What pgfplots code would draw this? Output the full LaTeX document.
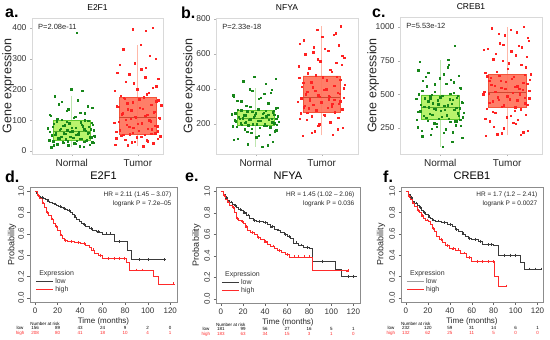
\documentclass[border=0pt]{standalone}
\usepackage{pgfplots}
\pgfplotsset{compat=1.18}
\usepackage{pgfplotstable}
\usepackage{fontspec}
\setmainfont{Liberation Sans}

\definecolor{nfill}{HTML}{B2F25C}
\definecolor{nedge}{HTML}{62C72F}
\definecolor{npt}{HTML}{17861A}
\definecolor{nwh}{HTML}{BFE6B0}
\definecolor{tfill}{HTML}{FF7058}
\definecolor{tedge}{HTML}{F4543A}
\definecolor{tpt}{HTML}{FF2222}
\definecolor{twh}{HTML}{FFB8A8}
\definecolor{kmlow}{HTML}{3A3A3A}
\definecolor{kmhigh}{HTML}{FF2A2A}

\pgfplotstableread[row sep=\\]{j v\\
-0.31 12\\ 0.12 15\\ -0.05 18\\ 0.27 20\\ -0.22 22\\ 0.04 25\\ 0.33 26\\ -0.14 28\\ 0.19 30\\ -0.28 31\\
0.08 33\\ -0.34 35\\ 0.23 36\\ -0.09 38\\ 0.15 40\\ -0.19 42\\ 0.30 44\\ -0.02 47\\ 0.34 50\\ -0.25 52\\
0.10 55\\ -0.12 57\\ 0.26 60\\ -0.33 62\\ 0.01 64\\ 0.21 66\\ -0.07 68\\ 0.29 70\\ -0.17 72\\ 0.06 75\\
-0.29 78\\ 0.17 80\\ -0.11 83\\ 0.32 86\\ -0.04 90\\ 0.14 93\\ -0.23 96\\ 0.25 98\\ -0.15 102\\ 0.03 108\\
-0.32 115\\ 0.20 122\\ -0.08 130\\ 0.31 140\\ -0.20 152\\ 0.09 165\\ -0.26 178\\ 0.16 195\\ -0.01 200\\ 0.08 385\\
0.18 14\\ -0.27 19\\ 0.05 23\\ -0.13 27\\ 0.31 29\\ -0.06 32\\ 0.22 34\\ -0.35 37\\ 0.13 39\\ -0.21 41\\
0.02 43\\ 0.28 45\\ -0.16 46\\ 0.35 48\\ -0.30 51\\ 0.07 53\\ -0.10 56\\ 0.24 58\\ -0.24 59\\ 0.11 61\\
-0.03 63\\ 0.33 67\\ -0.18 69\\ 0.19 71\\ -0.36 74\\ 0.00 76\\ 0.26 79\\ -0.13 82\\ 0.15 85\\ -0.27 88\\
0.30 91\\ -0.08 95\\ 0.20 100\\ -0.22 105\\ 0.05 112\\ -0.33 118\\ 0.13 125\\ -0.05 135\\ 0.24 145\\ -0.15 160\\
}\aN
\pgfplotstableread[row sep=\\]{j v\\
0.08 15\\ -0.34 20\\ 0.23 25\\ -0.09 28\\ 0.15 32\\ -0.19 36\\ 0.30 40\\ -0.02 44\\ 0.34 48\\ -0.25 50\\
0.10 53\\ -0.12 55\\ 0.26 58\\ -0.33 62\\ 0.01 66\\ 0.21 70\\ -0.07 75\\ 0.29 80\\ -0.17 85\\ 0.06 90\\
-0.29 95\\ 0.17 100\\ -0.11 104\\ 0.32 108\\ -0.04 112\\ 0.14 118\\ -0.23 122\\ 0.25 128\\ -0.15 135\\ 0.03 140\\
-0.32 145\\ 0.20 150\\ -0.08 158\\ 0.31 165\\ -0.20 170\\ 0.09 175\\ -0.26 180\\ 0.16 190\\ -0.01 200\\ 0.28 210\\
-0.18 225\\ 0.11 240\\ -0.31 255\\ 0.12 270\\ -0.05 285\\ 0.27 300\\ -0.22 330\\ 0.04 345\\ 0.12 390\\ -0.08 395\\ 0.22 400\\
-0.15 18\\ 0.24 24\\ -0.05 30\\ 0.13 35\\ -0.33 42\\ 0.05 47\\ -0.22 52\\ 0.20 56\\ -0.08 60\\ 0.30 64\\
-0.27 68\\ 0.15 73\\ -0.13 78\\ 0.26 82\\ 0.00 88\\ -0.36 92\\ 0.19 97\\ -0.18 102\\ 0.33 106\\ -0.03 110\\
0.11 115\\ -0.24 120\\ 0.24 125\\ -0.10 132\\ 0.07 138\\ -0.30 143\\ 0.35 148\\ -0.16 155\\ 0.28 162\\ 0.02 168\\
-0.21 173\\ 0.13 185\\ -0.35 195\\ 0.22 205\\ -0.06 220\\ 0.31 235\\ -0.13 250\\ 0.05 265\\ -0.27 280\\ 0.18 310\\
}\aT
\pgfplotstableread[row sep=\\]{j v\\
0.10 70\\ -0.12 85\\ 0.26 100\\ -0.33 110\\ 0.01 125\\ 0.21 140\\ -0.07 150\\ 0.29 160\\ -0.17 170\\ 0.06 178\\
-0.29 185\\ 0.17 190\\ -0.11 194\\ 0.32 198\\ -0.04 200\\ 0.14 202\\ -0.23 206\\ 0.25 210\\ -0.15 214\\ 0.03 218\\
-0.32 222\\ 0.20 226\\ -0.08 228\\ 0.31 230\\ -0.20 234\\ 0.09 238\\ -0.26 242\\ 0.16 246\\ -0.01 250\\ 0.28 252\\
-0.18 255\\ 0.11 260\\ -0.31 262\\ 0.12 265\\ -0.05 270\\ 0.27 275\\ -0.22 279\\ 0.04 285\\ 0.33 295\\ -0.14 305\\
0.19 320\\ -0.28 335\\ 0.08 350\\ -0.34 365\\ 0.23 380\\ -0.09 400\\ 0.15 430\\ -0.19 445\\ 0.30 460\\ -0.02 470\\
0.18 80\\ -0.27 115\\ 0.05 135\\ -0.13 155\\ 0.31 165\\ -0.06 175\\ 0.22 182\\ -0.35 188\\ 0.13 192\\ -0.21 196\\
0.02 199\\ 0.28 204\\ -0.16 208\\ 0.35 212\\ -0.30 216\\ 0.07 220\\ -0.10 224\\ 0.24 229\\ -0.24 232\\ 0.11 236\\
-0.03 240\\ 0.33 244\\ -0.18 248\\ 0.19 253\\ -0.36 257\\ 0.00 263\\ 0.26 268\\ -0.13 273\\ 0.15 277\\ -0.27 282\\
0.30 290\\ -0.08 300\\ 0.20 315\\ -0.22 330\\ 0.05 345\\ -0.33 360\\ 0.13 375\\ -0.05 390\\ 0.24 395\\ -0.15 250\\
}\bN
\pgfplotstableread[row sep=\\]{j v\\
-0.29 135\\ 0.17 140\\ -0.11 160\\ 0.32 180\\ -0.04 200\\ 0.14 215\\ -0.23 225\\ 0.25 235\\ -0.15 245\\ 0.03 255\\
-0.32 262\\ 0.20 268\\ -0.08 275\\ 0.31 285\\ -0.20 290\\ 0.09 295\\ -0.26 305\\ 0.16 315\\ -0.01 325\\ 0.28 330\\
-0.18 335\\ 0.11 342\\ -0.31 348\\ 0.12 355\\ -0.05 365\\ 0.27 375\\ -0.22 385\\ 0.04 395\\ 0.33 405\\ -0.14 410\\
0.19 420\\ -0.28 435\\ 0.08 450\\ -0.34 465\\ 0.23 472\\ -0.09 480\\ 0.15 500\\ -0.19 520\\ 0.30 540\\ -0.02 560\\
0.34 580\\ -0.25 600\\ 0.10 620\\ -0.12 640\\ 0.26 650\\ -0.33 660\\ 0.01 700\\ 0.21 720\\ -0.07 740\\ 0.29 760\\
-0.15 150\\ 0.24 170\\ -0.05 190\\ 0.13 210\\ -0.33 230\\ 0.05 250\\ -0.22 265\\ 0.20 272\\ -0.08 280\\ 0.30 288\\
-0.27 296\\ 0.15 302\\ -0.13 310\\ 0.26 318\\ 0.00 322\\ -0.36 328\\ 0.19 338\\ -0.18 345\\ 0.33 352\\ -0.03 358\\
0.11 362\\ -0.24 370\\ 0.24 380\\ -0.10 390\\ 0.07 400\\ -0.30 415\\ 0.35 425\\ -0.16 440\\ 0.28 455\\ 0.02 468\\
-0.21 490\\ 0.13 510\\ -0.35 530\\ 0.22 550\\ -0.06 570\\ 0.31 590\\ -0.13 610\\ 0.05 630\\ -0.27 680\\ 0.18 710\\
}\bT
\pgfplotstableread[row sep=\\]{j v\\
0.04 110\\ 0.33 180\\ -0.14 200\\ 0.19 220\\ -0.28 230\\ 0.08 240\\ -0.34 255\\ 0.23 270\\ -0.09 285\\ 0.15 295\\
-0.19 305\\ 0.30 312\\ -0.02 320\\ 0.34 330\\ -0.25 340\\ 0.10 345\\ -0.12 350\\ 0.26 360\\ -0.33 370\\ 0.01 380\\
0.21 385\\ -0.07 390\\ 0.29 398\\ -0.17 405\\ 0.06 415\\ -0.29 425\\ 0.17 430\\ -0.11 435\\ 0.32 445\\ -0.04 455\\
0.14 465\\ -0.23 470\\ 0.25 475\\ -0.15 485\\ 0.03 492\\ -0.32 500\\ 0.20 510\\ -0.08 520\\ 0.31 540\\ -0.20 560\\
0.09 580\\ -0.26 600\\ 0.16 610\\ -0.01 620\\ 0.28 640\\ -0.18 660\\ 0.11 700\\ -0.31 740\\ 0.12 755\\ 0.22 860\\
0.18 150\\ -0.27 190\\ 0.05 215\\ -0.13 245\\ 0.31 265\\ -0.06 280\\ 0.22 300\\ -0.35 310\\ 0.13 318\\ -0.21 325\\
0.02 335\\ 0.28 342\\ -0.16 355\\ 0.35 365\\ -0.30 375\\ 0.07 388\\ -0.10 395\\ 0.24 402\\ -0.24 410\\ 0.11 420\\
-0.03 428\\ 0.33 440\\ -0.18 450\\ 0.19 460\\ -0.36 468\\ 0.00 478\\ 0.26 488\\ -0.13 495\\ 0.15 505\\ -0.27 525\\
0.30 550\\ -0.08 575\\ 0.20 590\\ -0.22 630\\ 0.05 650\\ -0.33 680\\ 0.13 720\\ -0.05 260\\ 0.24 300\\ -0.15 470\\
}\cN
\pgfplotstableread[row sep=\\]{j v\\
-0.32 195\\ 0.20 200\\ -0.08 210\\ 0.31 230\\ -0.20 260\\ 0.09 290\\ -0.26 300\\ 0.16 310\\ -0.01 330\\ 0.28 350\\
-0.18 365\\ 0.11 380\\ -0.31 395\\ 0.12 405\\ -0.05 420\\ 0.27 435\\ -0.22 450\\ 0.04 465\\ 0.33 470\\ -0.14 480\\
0.19 495\\ -0.28 505\\ 0.08 512\\ -0.34 520\\ 0.23 535\\ -0.09 550\\ 0.15 560\\ -0.19 565\\ 0.30 580\\ -0.02 595\\
0.34 610\\ -0.25 625\\ 0.10 630\\ -0.12 640\\ 0.26 645\\ -0.33 660\\ 0.01 690\\ 0.21 720\\ -0.07 750\\ 0.29 780\\
-0.17 800\\ 0.06 820\\ -0.29 840\\ 0.17 860\\ -0.11 880\\ 0.32 900\\ -0.04 940\\ 0.14 960\\ -0.23 990\\ 0.25 1000\\
-0.15 205\\ 0.24 220\\ -0.05 250\\ 0.13 280\\ -0.33 320\\ 0.05 340\\ -0.22 370\\ 0.20 390\\ -0.08 410\\ 0.30 425\\
-0.27 440\\ 0.15 455\\ -0.13 460\\ 0.26 475\\ 0.00 485\\ -0.36 500\\ 0.19 508\\ -0.18 518\\ 0.33 525\\ -0.03 540\\
0.11 555\\ -0.24 570\\ 0.24 585\\ -0.10 600\\ 0.07 615\\ -0.30 635\\ 0.35 650\\ -0.16 670\\ 0.28 700\\ 0.02 730\\
-0.21 760\\ 0.13 790\\ -0.35 830\\ 0.22 850\\ -0.06 870\\ 0.31 920\\ -0.13 950\\ 0.05 980\\ -0.27 600\\ 0.18 540\\
}\cT

\tikzset{risk/.style={font=\fontsize{4.5}{5}\selectfont, inner sep=0pt},
  plab/.style={anchor=west, inner sep=0pt, font=\bfseries\fontsize{16}{18}\selectfont}}
\pgfplotsset{
  boxax/.style={
    scale only axis, anchor=north west,
    xmin=0.4, xtick={1,2}, xticklabels={Normal,Tumor},
    axis line style={draw=black!15},
    tick style={draw=black!30}, major tick length=2pt, tick align=outside,
    xtick pos=bottom, ytick pos=left,
    /pgf/number format/assume math mode=true,
    /pgf/number format/set thousands separator={},
    yticklabel style={font=\fontsize{8.5}{10}\selectfont, text=black!80},
    xticklabel style={font=\fontsize{10}{12}\selectfont, text=black!85},
    ylabel={Gene expression},
    title style={font=\fontsize{8.5}{10}\selectfont, yshift=-2pt},
    clip=false,
  },
  gelab/.style={ylabel style={at={(axis description cs:#1,0.5)}, anchor=center, font=\fontsize{12.5}{14}\selectfont, text=black!85}},
  prlab/.style={ylabel style={at={(axis description cs:#1,0.5)}, anchor=center, font=\fontsize{9}{10}\selectfont, text=black!85}},
  ptN/.style={only marks, mark=square*, mark size=0.7pt, color=npt, forget plot},
  ptT/.style={only marks, mark=square*, mark size=0.7pt, color=tpt, forget plot},
  whN/.style={draw=nwh, line width=1.1pt, forget plot},
  whT/.style={draw=twh, line width=1.1pt, forget plot},
  bxN/.style={draw=nedge, fill=nfill, fill opacity=0.9, line width=0.6pt, forget plot},
  bxT/.style={draw=tedge, fill=tfill, fill opacity=0.9, line width=0.6pt, forget plot},
  mdN/.style={draw=nedge!85!black, line width=0.8pt, forget plot},
  mdT/.style={draw=tedge!85!black, line width=0.8pt, forget plot},
  kmax/.style={
    scale only axis, anchor=north west,
    xmin=-4.5, xmax=126, ymin=-0.04, ymax=1.04,
    xtick={0,20,...,120}, ytick={0,0.2,0.4,0.6,0.8,1.0},
    axis line style={draw=black!45, line width=0.4pt},
    tick style={draw=black!60, line width=0.4pt}, major tick length=2.5pt, tick align=outside,
    xtick pos=bottom, ytick pos=left,
    /pgf/number format/assume math mode=true,
    yticklabel style={rotate=90, anchor=south, font=\fontsize{8}{9}\selectfont, text=black!80,
      /pgf/number format/.cd, fixed, fixed zerofill, precision=1},
    xticklabel style={font=\fontsize{8}{9}\selectfont, text=black!80},
    xlabel={Time (months)}, ylabel={Probability},
    xlabel style={font=\fontsize{8}{9}\selectfont, text=black!85, yshift=3pt},
    title style={font=\fontsize{11}{12}\selectfont, yshift=-2pt},
    clip=false,
    legend style={at={(0.03,0.05)}, anchor=south west, draw=none, fill=none,
      font=\fontsize{7}{8}\selectfont, text=black!80, row sep=-2.5pt, inner sep=1pt},
    legend cell align=left,
  },
}

\begin{document}
\begin{tikzpicture}
\path[use as bounding box] (0pt,0pt) rectangle (550pt,-340pt);

% ---------- a ----------
\begin{axis}[boxax, at={(32pt,-18pt)}, width=131pt, height=136pt, gelab=-0.183,
  xmax=2.38, ymin=-10, ymax=432, ytick={0,100,200,300,400}, title={E2F1}]
\addplot[whN] coordinates {(1,12) (1,178)};
\addplot[bxN] coordinates {(0.72,36) (1.28,36) (1.28,98) (0.72,98) (0.72,36)};
\addplot[mdN] coordinates {(0.72,65) (1.28,65)};
\addplot[whT] coordinates {(2,15) (2,345)};
\addplot[bxT] coordinates {(1.72,55) (2.28,55) (2.28,175) (1.72,175) (1.72,55)};
\addplot[mdT] coordinates {(1.72,108) (2.28,108)};
\addplot[ptN] table[x expr=\thisrow{j}+1, y=v] {\aN};
\addplot[ptT] table[x expr=\thisrow{j}+2, y=v] {\aT};
\node[anchor=north west, font=\fontsize{7.5}{9}\selectfont, text=black!85] at (rel axis cs:0.02,0.98) {P=2.08e-11};
\end{axis}

% ---------- b ----------
\begin{axis}[boxax, at={(216pt,-18pt)}, width=142pt, height=136pt, gelab=-0.19,
  xmax=2.55, ymin=29, ymax=806, ytick={200,400,600,800}, title={NFYA}]
\addplot[whN] coordinates {(1,70) (1,405)};
\addplot[bxN] coordinates {(0.72,195) (1.28,195) (1.28,280) (0.72,280) (0.72,195)};
\addplot[mdN] coordinates {(0.72,235) (1.28,235)};
\addplot[whT] coordinates {(2,135) (2,760)};
\addplot[bxT] coordinates {(1.72,270) (2.28,270) (2.28,475) (1.72,475) (1.72,270)};
\addplot[mdT] coordinates {(1.72,350) (2.28,350)};
\addplot[ptN] table[x expr=\thisrow{j}+1, y=v] {\bN};
\addplot[ptT] table[x expr=\thisrow{j}+2, y=v] {\bT};
\node[anchor=north west, font=\fontsize{7.5}{9}\selectfont, text=black!85] at (rel axis cs:0.02,0.98) {P=2.33e-18};
\end{axis}

% ---------- c ----------
\begin{axis}[boxax, at={(400pt,-17pt)}, width=142pt, height=137pt, gelab=-0.19,
  xmax=2.52, ymin=57, ymax=1074, ytick={250,500,750,1000}, title={CREB1}]
\addplot[whN] coordinates {(1,110) (1,755)};
\addplot[bxN] coordinates {(0.72,315) (1.28,315) (1.28,495) (0.72,495) (0.72,315)};
\addplot[mdN] coordinates {(0.72,400) (1.28,400)};
\addplot[whT] coordinates {(2,195) (2,1000)};
\addplot[bxT] coordinates {(1.72,400) (2.28,400) (2.28,645) (1.72,645) (1.72,400)};
\addplot[mdT] coordinates {(1.72,515) (2.28,515)};
\addplot[ptN] table[x expr=\thisrow{j}+1, y=v] {\cN};
\addplot[ptT] table[x expr=\thisrow{j}+2, y=v] {\cT};
\node[anchor=north west, font=\fontsize{7.5}{9}\selectfont, text=black!85] at (rel axis cs:0.02,0.98) {P=5.53e-12};
\end{axis}

% ---------- d ----------
\begin{axis}[kmax, at={(30pt,-187pt)}, width=147pt, height=115pt, prlab=-0.122, title={E2F1}]
\addplot[const plot, kmlow, line width=0.6pt, forget plot] coordinates {(0,1.00) (1,0.98) (2,0.96) (3,0.95) (5,0.94) (7,0.93) (9,0.92) (11,0.91) (13,0.90) (15,0.89) (17,0.88) (19,0.87) (21,0.86) (23,0.85) (25,0.84) (27,0.83) (29,0.82) (31,0.80) (33,0.78) (35,0.76) (37,0.74) (39,0.72) (41,0.70) (43,0.69) (45,0.67) (48,0.65) (51,0.63) (54,0.62) (57,0.61) (60,0.60) (70,0.53) (82,0.45) (85,0.36) (115,0.36)};
\addplot[only marks, mark=+, mark size=1.4pt, kmlow, line width=0.4pt, forget plot] coordinates {(6,0.94) (12,0.91) (18,0.88) (22,0.86) (26,0.84) (30,0.82) (36,0.76) (44,0.69) (50,0.65) (56,0.62) (63,0.60) (67,0.60) (75,0.53) (92,0.36) (100,0.36) (115,0.36)};
\addplot[const plot, kmhigh, line width=0.6pt, forget plot] coordinates {(0,1.00) (2,0.96) (4,0.93) (6,0.89) (8,0.85) (10,0.80) (12,0.77) (14,0.74) (16,0.70) (18,0.67) (20,0.63) (22,0.59) (24,0.56) (26,0.54) (29,0.53) (35,0.52) (40,0.51) (45,0.49) (48,0.47) (50,0.45) (53,0.42) (56,0.40) (60,0.37) (81,0.33) (84,0.26) (105,0.20) (109,0.13) (123,0.13)};
\addplot[only marks, mark=+, mark size=1.4pt, kmhigh, line width=0.4pt, forget plot] coordinates {(3,0.96) (7,0.89) (11,0.80) (15,0.74) (19,0.67) (23,0.59) (27,0.54) (32,0.53) (38,0.52) (44,0.51) (52,0.45) (58,0.40) (65,0.37) (70,0.37) (75,0.37) (79,0.37) (90,0.26) (95,0.26) (123,0.13)};
\addlegendimage{empty legend}\addlegendentry{\hspace{-16pt}Expression}
\addlegendimage{kmlow, line width=0.6pt}\addlegendentry{low}
\addlegendimage{kmhigh, line width=0.6pt}\addlegendentry{high}
\node[anchor=north east, align=right, font=\fontsize{6.5}{8.5}\selectfont, text=black!85] at (rel axis cs:0.985,0.985) {HR = 2.11 (1.45 -- 3.07)\\logrank P = 7.2e--05};
\node[risk, anchor=west] at ([xshift=-5pt,yshift=-22pt]axis cs:0,-0.04) {Number at risk};
\node[risk] at ([xshift=-15pt,yshift=-26pt]axis cs:0,-0.04) {low};
\node[risk, text=kmhigh] at ([xshift=-15pt,yshift=-31pt]axis cs:0,-0.04) {high};
\node[risk] at ([yshift=-26pt]axis cs:0,-0.04) {156};
\node[risk] at ([yshift=-26pt]axis cs:20,-0.04) {89};
\node[risk] at ([yshift=-26pt]axis cs:40,-0.04) {43};
\node[risk] at ([yshift=-26pt]axis cs:60,-0.04) {24};
\node[risk] at ([yshift=-26pt]axis cs:80,-0.04) {9};
\node[risk] at ([yshift=-26pt]axis cs:100,-0.04) {2};
\node[risk] at ([yshift=-26pt]axis cs:120,-0.04) {0};
\node[risk, text=kmhigh] at ([yshift=-31pt]axis cs:0,-0.04) {208};
\node[risk, text=kmhigh] at ([yshift=-31pt]axis cs:20,-0.04) {80};
\node[risk, text=kmhigh] at ([yshift=-31pt]axis cs:40,-0.04) {41};
\node[risk, text=kmhigh] at ([yshift=-31pt]axis cs:60,-0.04) {18};
\node[risk, text=kmhigh] at ([yshift=-31pt]axis cs:80,-0.04) {10};
\node[risk, text=kmhigh] at ([yshift=-31pt]axis cs:100,-0.04) {4};
\node[risk, text=kmhigh] at ([yshift=-31pt]axis cs:120,-0.04) {1};
\end{axis}

% ---------- e ----------
\begin{axis}[kmax, at={(216pt,-187pt)}, width=144pt, height=116pt, prlab=-0.135, title={NFYA}]
\addplot[const plot, kmlow, line width=0.6pt, forget plot] coordinates {(0,1) (2,0.97) (4,0.94) (6,0.92) (8,0.90) (10,0.88) (12,0.87) (14,0.85) (16,0.83) (18,0.82) (20,0.80) (23,0.78) (26,0.75) (29,0.73) (32,0.72) (38,0.71) (42,0.69) (45,0.67) (48,0.65) (51,0.64) (54,0.62) (57,0.60) (60,0.58) (63,0.56) (66,0.52) (70,0.50) (75,0.48) (80,0.47) (83,0.35) (104,0.27) (109,0.21) (123,0.21)};
\addplot[only marks, mark=+, mark size=1.4pt, kmlow, line width=0.4pt, forget plot] coordinates {(5,0.94) (9,0.90) (13,0.87) (17,0.83) (21,0.80) (25,0.78) (30,0.73) (35,0.72) (40,0.71) (46,0.67) (52,0.64) (58,0.60) (62,0.58) (68,0.52) (73,0.50) (78,0.48) (92,0.35) (115,0.21) (120,0.21)};
\addplot[const plot, kmhigh, line width=0.6pt, forget plot] coordinates {(0,1) (2,0.96) (4,0.93) (6,0.90) (8,0.87) (10,0.85) (12,0.80) (14,0.75) (16,0.73) (18,0.72) (20,0.70) (22,0.67) (24,0.64) (27,0.62) (30,0.60) (33,0.57) (36,0.55) (39,0.53) (42,0.51) (45,0.49) (48,0.47) (51,0.45) (55,0.43) (58,0.41) (62,0.39) (83,0.26) (115,0.26)};
\addplot[only marks, mark=+, mark size=1.4pt, kmhigh, line width=0.4pt, forget plot] coordinates {(3,0.96) (7,0.90) (11,0.85) (15,0.75) (19,0.72) (23,0.67) (28,0.62) (34,0.57) (40,0.53) (47,0.49) (53,0.45) (60,0.41) (66,0.39) (70,0.39) (75,0.39) (80,0.39) (115,0.26)};
\addlegendimage{empty legend}\addlegendentry{\hspace{-16pt}Expression}
\addlegendimage{kmlow, line width=0.6pt}\addlegendentry{low}
\addlegendimage{kmhigh, line width=0.6pt}\addlegendentry{high}
\node[anchor=north east, align=right, font=\fontsize{6.5}{8.5}\selectfont, text=black!85] at (rel axis cs:0.985,0.985) {HR = 1.45 (1.02 -- 2.06)\\logrank P = 0.036};
\node[risk, anchor=west] at ([xshift=-5pt,yshift=-22pt]axis cs:0,-0.04) {Number at risk};
\node[risk] at ([xshift=-15pt,yshift=-26pt]axis cs:0,-0.04) {low};
\node[risk, text=kmhigh] at ([xshift=-15pt,yshift=-31pt]axis cs:0,-0.04) {high};
\node[risk] at ([yshift=-26pt]axis cs:0,-0.04) {181};
\node[risk] at ([yshift=-26pt]axis cs:20,-0.04) {99};
\node[risk] at ([yshift=-26pt]axis cs:40,-0.04) {56};
\node[risk] at ([yshift=-26pt]axis cs:60,-0.04) {27};
\node[risk] at ([yshift=-26pt]axis cs:80,-0.04) {16};
\node[risk] at ([yshift=-26pt]axis cs:100,-0.04) {5};
\node[risk] at ([yshift=-26pt]axis cs:120,-0.04) {1};
\node[risk, text=kmhigh] at ([yshift=-31pt]axis cs:0,-0.04) {183};
\node[risk, text=kmhigh] at ([yshift=-31pt]axis cs:20,-0.04) {63};
\node[risk, text=kmhigh] at ([yshift=-31pt]axis cs:40,-0.04) {34};
\node[risk, text=kmhigh] at ([yshift=-31pt]axis cs:60,-0.04) {15};
\node[risk, text=kmhigh] at ([yshift=-31pt]axis cs:80,-0.04) {3};
\node[risk, text=kmhigh] at ([yshift=-31pt]axis cs:100,-0.04) {1};
\node[risk, text=kmhigh] at ([yshift=-31pt]axis cs:120,-0.04) {0};
\end{axis}

% ---------- f ----------
\begin{axis}[kmax, at={(401pt,-187pt)}, width=142pt, height=115pt, prlab=-0.14, xmax=125, title={CREB1}]
\addplot[const plot, kmlow, line width=0.6pt, forget plot] coordinates {(0,1) (2,0.97) (4,0.94) (6,0.91) (8,0.89) (10,0.87) (12,0.85) (14,0.82) (16,0.80) (18,0.78) (20,0.76) (22,0.75) (24,0.73) (27,0.72) (32,0.71) (38,0.69) (42,0.67) (45,0.64) (48,0.62) (51,0.60) (54,0.58) (57,0.56) (60,0.55) (66,0.53) (70,0.50) (80,0.49) (84,0.40) (104,0.33) (108,0.27) (123,0.27)};
\addplot[only marks, mark=+, mark size=1.4pt, kmlow, line width=0.4pt, forget plot] coordinates {(5,0.94) (9,0.89) (13,0.85) (17,0.80) (21,0.76) (25,0.73) (29,0.72) (35,0.71) (40,0.69) (46,0.64) (52,0.60) (58,0.56) (63,0.55) (68,0.53) (75,0.50) (78,0.50) (90,0.40) (95,0.40) (100,0.40) (112,0.27) (118,0.27) (123,0.27)};
\addplot[const plot, kmhigh, line width=0.6pt, forget plot] coordinates {(0,1) (2,0.95) (4,0.92) (6,0.89) (8,0.86) (10,0.82) (12,0.80) (14,0.77) (16,0.75) (18,0.73) (20,0.72) (22,0.69) (24,0.65) (26,0.62) (28,0.58) (30,0.55) (33,0.52) (36,0.49) (40,0.46) (45,0.45) (50,0.42) (55,0.38) (60,0.34) (81,0.20) (84,0.11) (91,0.11)};
\addplot[only marks, mark=+, mark size=1.4pt, kmhigh, line width=0.4pt, forget plot] coordinates {(3,0.95) (7,0.89) (11,0.82) (15,0.77) (19,0.73) (25,0.65) (32,0.55) (38,0.49) (43,0.46) (48,0.45) (53,0.42) (58,0.38) (65,0.34) (70,0.34) (75,0.34) (80,0.34) (91,0.11)};
\addlegendimage{empty legend}\addlegendentry{\hspace{-16pt}Expression}
\addlegendimage{kmlow!50, line width=0.6pt}\addlegendentry{low}
\addlegendimage{kmhigh, line width=0.6pt}\addlegendentry{high}
\node[anchor=north east, align=right, font=\fontsize{6.5}{8.5}\selectfont, text=black!85] at (rel axis cs:0.985,0.985) {HR = 1.7 (1.2 -- 2.41)\\logrank P = 0.0027};
\node[risk, anchor=west] at ([xshift=-5pt,yshift=-22pt]axis cs:0,-0.04) {Number at risk};
\node[risk] at ([xshift=-15pt,yshift=-26pt]axis cs:0,-0.04) {low};
\node[risk, text=kmhigh] at ([xshift=-15pt,yshift=-31pt]axis cs:0,-0.04) {high};
\node[risk] at ([yshift=-26pt]axis cs:0,-0.04) {232};
\node[risk] at ([yshift=-26pt]axis cs:20,-0.04) {120};
\node[risk] at ([yshift=-26pt]axis cs:40,-0.04) {59};
\node[risk] at ([yshift=-26pt]axis cs:60,-0.04) {31};
\node[risk] at ([yshift=-26pt]axis cs:80,-0.04) {14};
\node[risk] at ([yshift=-26pt]axis cs:100,-0.04) {6};
\node[risk] at ([yshift=-26pt]axis cs:120,-0.04) {1};
\node[risk, text=kmhigh] at ([yshift=-31pt]axis cs:0,-0.04) {132};
\node[risk, text=kmhigh] at ([yshift=-31pt]axis cs:20,-0.04) {62};
\node[risk, text=kmhigh] at ([yshift=-31pt]axis cs:40,-0.04) {25};
\node[risk, text=kmhigh] at ([yshift=-31pt]axis cs:60,-0.04) {11};
\node[risk, text=kmhigh] at ([yshift=-31pt]axis cs:80,-0.04) {5};
\node[risk, text=kmhigh] at ([yshift=-31pt]axis cs:100,-0.04) {0};
\node[risk, text=kmhigh] at ([yshift=-31pt]axis cs:120,-0.04) {0};
\end{axis}

% panel letters
\node[plab] at (5pt,-13pt) {a.};
\node[plab] at (181pt,-13pt) {b.};
\node[plab] at (372pt,-13pt) {c.};
\node[plab] at (5pt,-177pt) {d.};
\node[plab] at (185pt,-177pt) {e.};
\node[plab] at (383pt,-177pt) {f.};
\end{tikzpicture}
\end{document}
